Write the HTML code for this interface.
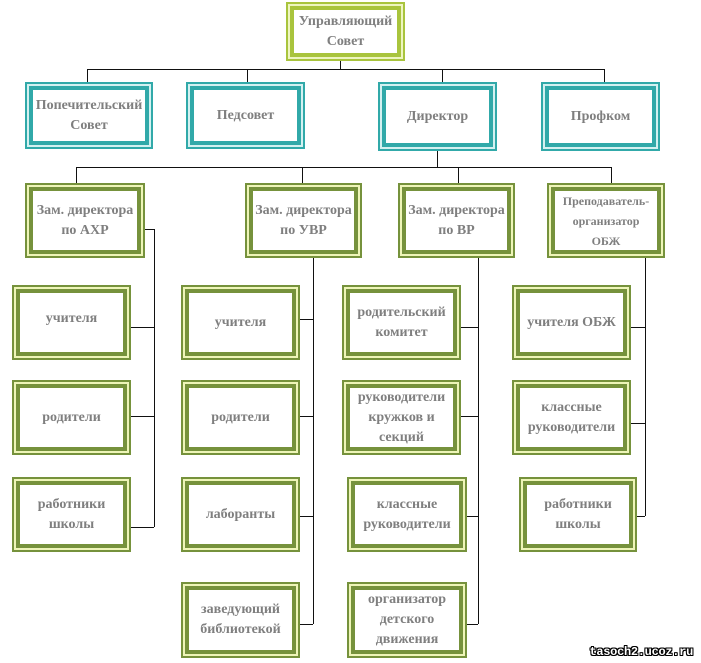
<!DOCTYPE html>
<html><head><meta charset="utf-8"><style>
body{margin:0;width:701px;height:663px;background:#fff;position:relative;overflow:hidden;font-family:"Liberation Serif","DejaVu Serif",serif;}
.b{position:absolute;box-sizing:border-box;border:2px solid var(--c);background:var(--l);padding:2px;}
.b>div{box-sizing:border-box;width:100%;height:100%;border:4px solid var(--c);background:#fff;display:flex;align-items:center;justify-content:center;text-align:center;color:#7f7f7f;font-weight:bold;font-size:14px;line-height:20px;font-family:"Liberation Serif","DejaVu Serif",serif;}
.o{--c:#76923c;--l:#eef5b8;}
.t{--c:#31a9a9;--l:#d4f1f1;}
.y{--c:#a9c43d;--l:#eef5c0;}
.h{position:absolute;height:0;border-top:1.5px solid #111;}
.v{position:absolute;width:0;border-left:1.5px solid #111;}
.wm{position:absolute;right:8px;top:645px;font:bold 12px "Liberation Mono",monospace;color:#fff;letter-spacing:-0.3px;text-shadow:1px 0 #000,-1px 0 #000,0 1px #000,0 -1px #000,1px 1px #000,-1px -1px #000,1px -1px #000,-1px 1px #000;}
</style></head><body>
<div class="v" style="left:340px;top:61px;height:8px"></div>
<div class="h" style="left:87px;top:69px;width:517px"></div>
<div class="v" style="left:87px;top:69px;height:13px"></div>
<div class="v" style="left:247px;top:69px;height:13px"></div>
<div class="v" style="left:442px;top:69px;height:13px"></div>
<div class="v" style="left:604px;top:69px;height:13px"></div>
<div class="v" style="left:437px;top:150px;height:17px"></div>
<div class="h" style="left:76px;top:167px;width:535px"></div>
<div class="v" style="left:76px;top:167px;height:16px"></div>
<div class="v" style="left:302px;top:167px;height:16px"></div>
<div class="v" style="left:458px;top:167px;height:16px"></div>
<div class="v" style="left:611px;top:167px;height:16px"></div>
<div class="h" style="left:142px;top:229px;width:12px"></div>
<div class="v" style="left:154px;top:229px;height:298px"></div>
<div class="h" style="left:128px;top:327px;width:26px"></div>
<div class="h" style="left:128px;top:416px;width:26px"></div>
<div class="h" style="left:128px;top:527px;width:26px"></div>
<div class="v" style="left:313px;top:258px;height:366px"></div>
<div class="h" style="left:300px;top:319px;width:13px"></div>
<div class="h" style="left:300px;top:416px;width:13px"></div>
<div class="h" style="left:300px;top:516px;width:13px"></div>
<div class="h" style="left:300px;top:624px;width:13px"></div>
<div class="v" style="left:478px;top:258px;height:366px"></div>
<div class="h" style="left:461px;top:327px;width:17px"></div>
<div class="h" style="left:461px;top:416px;width:17px"></div>
<div class="h" style="left:467px;top:516px;width:11px"></div>
<div class="h" style="left:467px;top:624px;width:11px"></div>
<div class="v" style="left:645px;top:258px;height:258px"></div>
<div class="h" style="left:631px;top:327px;width:14px"></div>
<div class="h" style="left:631px;top:423px;width:14px"></div>
<div class="h" style="left:637px;top:516px;width:8px"></div>

<div class="b y" style="left:286px;top:2px;width:119px;height:59px"><div>Управляющий<br>Совет</div></div>
<div class="b t" style="left:25px;top:82px;width:128px;height:67px"><div>Попечительский<br>Совет</div></div>
<div class="b t" style="left:186px;top:82px;width:119px;height:67px"><div>Педсовет</div></div>
<div class="b t" style="left:378px;top:82px;width:119px;height:69px"><div>Директор</div></div>
<div class="b t" style="left:541px;top:82px;width:119px;height:69px"><div>Профком</div></div>

<div class="b o" style="left:25px;top:183px;width:120px;height:75px"><div>Зам. директора<br>по АХР</div></div>
<div class="b o" style="left:245px;top:183px;width:117px;height:75px"><div>Зам. директора<br>по УВР</div></div>
<div class="b o" style="left:398px;top:183px;width:117px;height:75px"><div>Зам. директора<br>по ВР</div></div>
<div class="b o" style="left:547px;top:183px;width:118px;height:75px"><div style="font-size:12px;line-height:20px">Преподаватель-<br>организатор<br>ОБЖ</div></div>

<div class="b o" style="left:12px;top:285px;width:119px;height:75px"><div style="align-items:flex-start;padding-top:16px">учителя</div></div>
<div class="b o" style="left:12px;top:380px;width:119px;height:75px"><div>родители</div></div>
<div class="b o" style="left:12px;top:477px;width:119px;height:75px"><div>работники<br>школы</div></div>

<div class="b o" style="left:181px;top:285px;width:119px;height:75px"><div>учителя</div></div>
<div class="b o" style="left:181px;top:380px;width:119px;height:75px"><div>родители</div></div>
<div class="b o" style="left:181px;top:477px;width:119px;height:75px"><div>лаборанты</div></div>
<div class="b o" style="left:181px;top:582px;width:119px;height:76px"><div>заведующий<br>библиотекой</div></div>

<div class="b o" style="left:342px;top:285px;width:119px;height:75px"><div>родительский<br>комитет</div></div>
<div class="b o" style="left:342px;top:380px;width:119px;height:75px"><div>руководители<br>кружков и<br>секций</div></div>
<div class="b o" style="left:347px;top:477px;width:120px;height:75px"><div>классные<br>руководители</div></div>
<div class="b o" style="left:347px;top:582px;width:120px;height:76px"><div>организатор<br>детского<br>движения</div></div>

<div class="b o" style="left:512px;top:285px;width:119px;height:75px"><div>учителя ОБЖ</div></div>
<div class="b o" style="left:512px;top:380px;width:119px;height:75px"><div>классные<br>руководители</div></div>
<div class="b o" style="left:519px;top:477px;width:118px;height:75px"><div>работники<br>школы</div></div>

<div class="wm">tasoch2.ucoz.ru</div>
</body></html>
